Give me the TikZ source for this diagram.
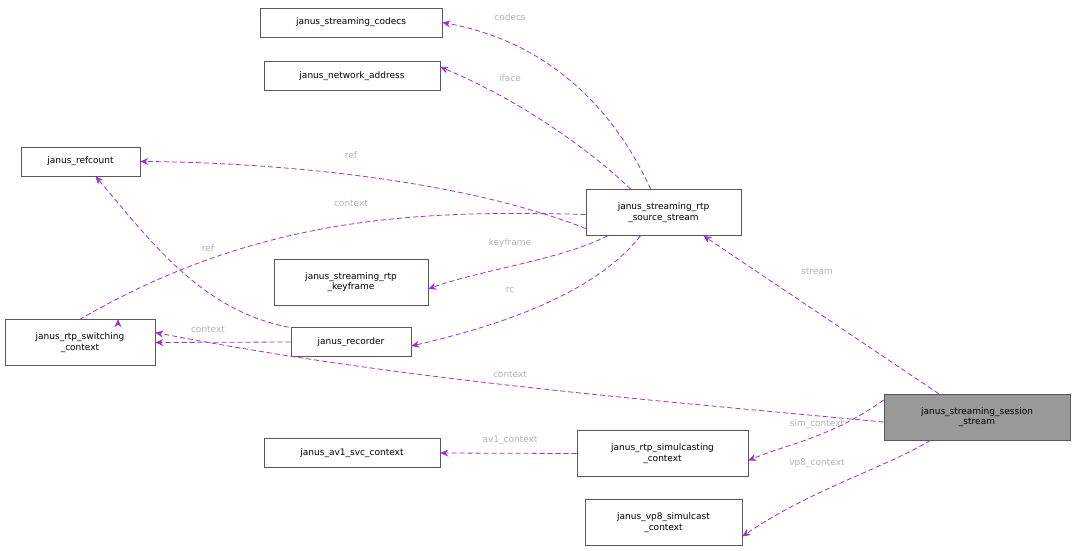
\documentclass[tikz,border=0pt]{standalone}
\usepackage{fontspec}
\setmainfont{DejaVu Sans}
\usetikzlibrary{arrows.meta}
\begin{document}
\begin{tikzpicture}[x=1pt,y=-1pt,
  box/.style={draw=black!65,line width=0.6pt,fill=white,font=\fontsize{9}{10.5}\selectfont,align=center,inner sep=0pt,minimum height=29pt},
  box2/.style={box,minimum height=46pt},
  e/.style={draw={rgb,255:red,154;green,50;blue,205},dashed,dash pattern=on 5pt off 3pt,line width=0.8pt,-{Stealth[length=8pt,width=7pt]}},
  lbl/.style={text=black!30,font=\fontsize{9}{10.5}\selectfont,inner sep=1pt}]
\useasboundingbox (0,0) rectangle (1076,550);
\node[box,minimum width=182pt] (codecs) at (351,22.5) {janus\_streaming\_codecs};
\node[box,minimum width=176pt] (net) at (352,76) {janus\_network\_address};
\node[box,minimum width=119pt] (ref) at (80.5,161.5) {janus\_refcount};
\node[box2,minimum width=155pt] (src) at (663.5,212.5) {janus\_streaming\_rtp\\\_source\_stream};
\node[box2,minimum width=154pt] (kf) at (351,282) {janus\_streaming\_rtp\\\_keyframe};
\node[box2,minimum width=150pt] (sw) at (80,342.5) {janus\_rtp\_switching\\\_context};
\node[box,minimum width=120pt] (rec) at (351,342) {janus\_recorder};
\node[box2,minimum width=186pt,fill=black!40] (sess) at (977,417) {janus\_streaming\_session\\\_stream};
\node[box,minimum width=176pt] (av1) at (352,453) {janus\_av1\_svc\_context};
\node[box2,minimum width=171pt] (sim) at (662.5,453.5) {janus\_rtp\_simulcasting\\\_context};
\node[box2,minimum width=157pt] (vp8) at (663.5,522.5) {janus\_vp8\_simulcast\\\_context};

\draw[e] (src.north west) ++(65,0) coordinate (a1) .. controls (610,100) and (540,40) .. (codecs.east);
\path (510,17) node[lbl] (l1) {codecs};
\draw[e] (src.north west) ++(45,0) coordinate (a2) .. controls (590,150) and (520,100) .. ([yshift=9pt]net.east);
\path (510,78) node[lbl] (l2) {iface};
\draw[e] ([yshift=-16pt]src.west) .. controls (450,175) and (250,162) .. (ref.east);
\path (351,155) node[lbl] (l3) {ref};
\draw[e] ([yshift=-2pt]src.west) .. controls (420,210) and (260,215) .. (sw.north) ++(38,0);
\path (351,203) node[lbl] (l4) {context};
\draw[e] (src.south west) ++(22,0) coordinate (a5) .. controls (560,260) and (480,270) .. ([yshift=-7pt]kf.east);
\path (510,243) node[lbl] (l5) {keyframe};
\draw[e] (src.south) ++(-23,0) coordinate (a6) .. controls (590,300) and (480,330) .. ([yshift=-4pt]rec.east);
\path (510,290) node[lbl] (l6) {rc};
\draw[e] ([xshift=-2pt]rec.north west) .. controls (200,310) and (150,240) .. ([xshift=15pt]ref.south);
\path (208,248) node[lbl] (l7) {ref};
\draw[e] (rec.west) -- (sw.east);
\path (208,329) node[lbl] (l8) {context};
\draw[e] ([xshift=55pt]sess.north west) -- ([xshift=40pt]src.south);
\path (817,271) node[lbl] (l9) {stream};
\draw[e] ([yshift=-5pt]sess.west) .. controls (650,400) and (400,380) .. ([yshift=10pt]sw.east);
\path (510,374) node[lbl] (l10) {context};
\draw[e] ([yshift=17pt]sess.west) .. controls (830,438) and (790,443) .. ([yshift=-7pt]sim.east);
\path (817,424) node[lbl] (l11) {sim\_context};
\draw[e] (sim.west) -- (av1.east);
\path (510,440) node[lbl] (l12) {av1\_context};
\draw[e] ([xshift=47pt]sess.south west) .. controls (880,470) and (810,490) .. ([yshift=-14pt]vp8.east);
\path (817,463) node[lbl] (l13) {vp8\_context};
\end{tikzpicture}
\end{document}
